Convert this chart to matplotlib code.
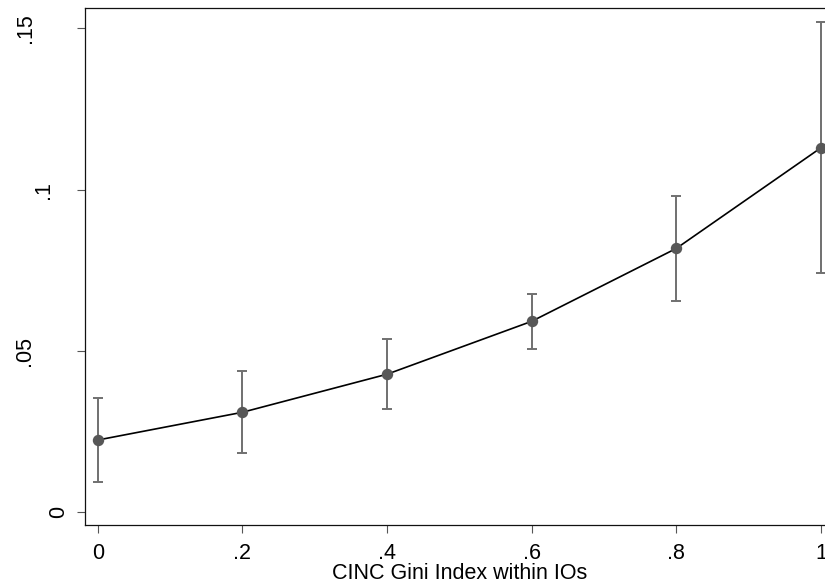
import numpy as np
import matplotlib.pyplot as plt
from matplotlib import transforms

plt.rcParams['font.family'] = ['Liberation Sans', 'DejaVu Sans']

# predicted probability across the CINC Gini index, with 95% CIs
gini = [0, 0.2, 0.4, 0.6, 0.8, 1.0]
pred = [0.0224, 0.0310, 0.0428, 0.0592, 0.0818, 0.1130]
ci_lo = [0.0094, 0.0183, 0.0321, 0.0505, 0.0656, 0.0741]
ci_hi = [0.0353, 0.0438, 0.0536, 0.0677, 0.0980, 0.1521]

xticks = [0, 0.2, 0.4, 0.6, 0.8, 1.0]
xticklabels = ['0', '.2', '.4', '.6', '.8', '1']
yticks = [0, 0.05, 0.1, 0.15]
yticklabels = ['0', '.05', '.1', '.15']
ylabel_x = [59, 25, 43.5, 25.5]   # pixel x of each rotated y label

fs = 15.5

fig = plt.figure(figsize=(8.25, 5.87), dpi=100)
ax = fig.add_axes([84.5/825, 61.7/587, (834.2-84.5)/825, (525.3-8.3)/587])

pred = np.array(pred)
yerr = [pred - np.array(ci_lo), np.array(ci_hi) - pred]
ax.errorbar(gini, pred, yerr=yerr, fmt='none', ecolor='#707070',
            elinewidth=1.4, capsize=3.6, capthick=1.4, zorder=2)
ax.plot(gini, pred, color='black', lw=1.2, zorder=3)
ax.plot(gini, pred, 'o', color='#575757', ms=7.2, mec='#575757', zorder=4)

ax.set_xlim(-0.01825, 1.01825)
ax.set_ylim(-0.00403, 0.15623)

ax.set_xticks(xticks)
ax.set_xticklabels(xticklabels, fontsize=fs)
ax.set_yticks(yticks)
ax.set_yticklabels([])
ax.tick_params(axis='both', direction='out', length=6.1, width=0.8,
               color='#555555', pad=6.5)
ax.set_xlabel('CINC Gini Index within IOs', fontsize=fs, labelpad=-0.5)

trans = transforms.blended_transform_factory(fig.transFigure, ax.transData)
for xp, yv, lab in zip(ylabel_x, yticks, yticklabels):
    ax.text(xp/825, yv, lab, transform=trans, rotation=90,
            ha='center', va='center', fontsize=fs)

for side in ('left', 'bottom', 'top'):
    ax.spines[side].set_linewidth(0.9)
    ax.spines[side].set_color('#111111')
ax.spines['right'].set_visible(False)

fig.savefig('out.png', dpi=100)
